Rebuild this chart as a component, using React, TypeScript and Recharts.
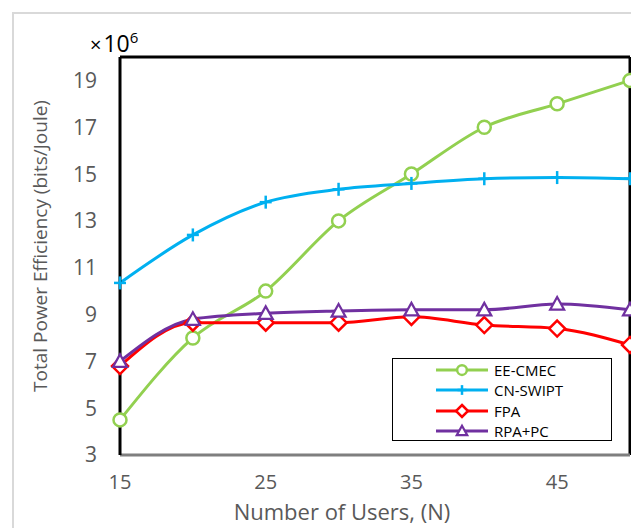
import { LineChart, Line, XAxis, YAxis, ReferenceLine, Legend } from 'recharts';

// number of users on the x axis
const users = [15, 20, 25, 30, 35, 40, 45, 50];

// total power efficiency, x10^6 bits/Joule
const eeCmec = [4.5, 8.0, 10.0, 13.0, 15.0, 17.0, 18.0, 19.0];
const cnSwipt = [10.35, 12.4, 13.8, 14.35, 14.6, 14.8, 14.85, 14.8];
const fpa = [6.8, 8.65, 8.65, 8.65, 8.9, 8.55, 8.4, 7.7];
const rpaPc = [7.0, 8.8, 9.05, 9.15, 9.2, 9.2, 9.45, 9.2];

const xTicks = [15, 25, 35, 45];
const yTicks = [3, 5, 7, 9, 11, 13, 15, 17, 19];

const FONT = '"Open Sans", sans-serif';
const GREY = '#595959';

const data = users.map((n, i) => ({
  n,
  ee: eeCmec[i],
  cn: cnSwipt[i],
  fpa: fpa[i],
  rpa: rpaPc[i],
}));

type MarkProps = { cx?: number; cy?: number; color: string; s?: number };

const CircleMark = ({ cx = 0, cy = 0, color, s = 1 }: MarkProps) => (
  <circle cx={cx} cy={cy} r={6.5 * s} fill="#fff" stroke={color} strokeWidth={2.5} />
);

const PlusMark = ({ cx = 0, cy = 0, color, s = 1 }: MarkProps) => (
  <g stroke={color} strokeWidth={2.5}>
    <line x1={cx - 6 * s} x2={cx + 6 * s} y1={cy} y2={cy} />
    <line x1={cx} x2={cx} y1={cy - 6.5 * s} y2={cy + 6.5 * s} />
  </g>
);

const DiamondMark = ({ cx = 0, cy = 0, color, s = 1 }: MarkProps) => {
  const r = 8 * s;
  return (
    <path
      d={`M${cx},${cy - r} L${cx + r},${cy} L${cx},${cy + r} L${cx - r},${cy} Z`}
      fill="#fff"
      stroke={color}
      strokeWidth={2.5}
    />
  );
};

const TriangleMark = ({ cx = 0, cy = 0, color, s = 1 }: MarkProps) => {
  const h = 7 * s;
  return (
    <path
      d={`M${cx},${cy - h} L${cx + h},${cy + h * 0.8} L${cx - h},${cy + h * 0.8} Z`}
      fill="#fff"
      stroke={color}
      strokeWidth={2.2}
    />
  );
};

const series = [
  { key: 'ee', name: 'EE-CMEC', color: '#92D050', Mark: CircleMark },
  { key: 'cn', name: 'CN-SWIPT', color: '#00B0F0', Mark: PlusMark },
  { key: 'fpa', name: 'FPA', color: '#FF0000', Mark: DiamondMark },
  { key: 'rpa', name: 'RPA+PC', color: '#7030A0', Mark: TriangleMark },
];

const LegendBox = () => (
  <div
    style={{
      width: 220,
      height: 83,
      boxSizing: 'border-box',
      border: '1px solid #000',
      background: '#fff',
      padding: '1px 0 0 42px',
      fontFamily: FONT,
      fontSize: 15,
      color: '#000',
    }}
  >
    {series.map(({ key, name, color, Mark }) => (
      <div key={key} style={{ display: 'flex', alignItems: 'center', height: 20.3 }}>
        <svg width={54} height={20}>
          <line x1={1} x2={53} y1={10} y2={10} stroke={color} strokeWidth={3} />
          <Mark cx={27} cy={10} color={color} s={0.75} />
        </svg>
        <span style={{ marginLeft: 5, lineHeight: '20px' }}>{name}</span>
      </div>
    ))}
  </div>
);

export default function App() {
  return (
    <div style={{ position: 'relative', width: 631, height: 520, overflow: 'hidden' }}>
      <div
        style={{
          position: 'absolute',
          left: 4,
          top: 4,
          width: 700,
          height: 600,
          border: '2px solid #d9d9d9',
        }}
      />
      <div style={{ position: 'absolute', left: 0, top: 0 }}>
        <LineChart width={631} height={520} data={data} margin={{ top: 49, right: 9, bottom: 0, left: 0 }}>
          <XAxis
            dataKey="n"
            type="number"
            domain={[15, 50]}
            ticks={xTicks}
            height={73}
            tickLine={false}
            tickSize={0}
            tickMargin={20}
            axisLine={{ stroke: '#7f7f7f', strokeWidth: 3 }}
            tick={{ fontSize: 20, fill: GREY, fontFamily: FONT }}
          />
          <YAxis
            type="number"
            domain={[3, 20]}
            ticks={yTicks}
            width={112}
            tickLine={false}
            tickSize={0}
            tickMargin={23}
            axisLine={{ stroke: '#000', strokeWidth: 3 }}
            tick={{ fontSize: 21, fill: GREY, fontFamily: FONT }}
          />
          <ReferenceLine y={20} stroke="#000" strokeWidth={3} />
          <ReferenceLine x={50} stroke="#000" strokeWidth={3} />
          {series.map(({ key, name, color, Mark }) => (
            <Line
              key={key}
              dataKey={key}
              name={name}
              type="monotone"
              stroke={color}
              strokeWidth={3}
              isAnimationActive={false}
              dot={(p: any) => <Mark key={`${key}-${p.index}`} cx={p.cx} cy={p.cy} color={color} />}
              activeDot={false}
            />
          ))}
          <Legend
            layout="vertical"
            align="center"
            verticalAlign="middle"
            content={() => <LegendBox />}
            wrapperStyle={{ left: 384, top: 350, width: 220, height: 83 }}
          />
          <text x={82} y={44} fontFamily={FONT} fill="#000">
            <tspan fontSize={20}>×</tspan>
            <tspan fontSize={23} dx={2}>10</tspan>
            <tspan fontSize={15} dy={-9}>6</tspan>
          </text>
          <text
            x={32}
            y={238}
            transform="rotate(-90 32 238)"
            textAnchor="middle"
            dominantBaseline="central"
            fontFamily={FONT}
            fontSize={19}
            fill={GREY}
          >
            Total Power Efficiency (bits/Joule)
          </text>
          <text x={334} y={512} textAnchor="middle" fontFamily={FONT} fontSize={22} fill={GREY}>
            Number of Users, (N)
          </text>
        </LineChart>
      </div>
    </div>
  );
}
